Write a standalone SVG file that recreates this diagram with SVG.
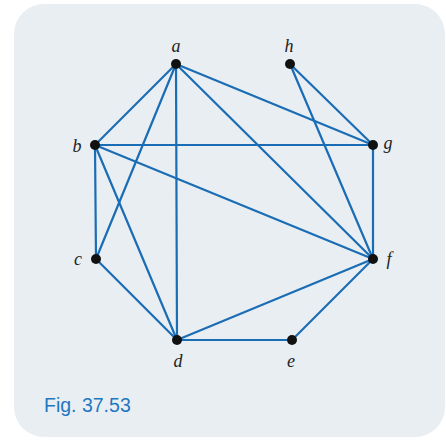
<svg xmlns="http://www.w3.org/2000/svg" width="446" height="441" viewBox="0 0 446 441">
<style>
.e{stroke:#1a6db5;stroke-width:2.2;fill:none;stroke-linecap:round}
.n{fill:#111}
.l{font-family:"Liberation Serif",serif;font-style:italic;font-size:18px;fill:#222;text-anchor:middle}
.cap{font-family:"Liberation Sans",Arial,sans-serif;font-size:19.5px;fill:#1f77c0}
</style>
<rect x="0" y="0" width="446" height="441" fill="#ffffff"/>
<rect x="14" y="4" width="431" height="433" rx="30" ry="30" fill="#e9eef2"/>
<g id="connectors">
<line class="e" x1="176" y1="64" x2="95" y2="145"/>
<line class="e" x1="176" y1="64" x2="96" y2="259"/>
<line class="e" x1="176" y1="64" x2="177" y2="340"/>
<line class="e" x1="176" y1="64" x2="373" y2="259"/>
<line class="e" x1="176" y1="64" x2="373" y2="145"/>
<line class="e" x1="290" y1="64" x2="373" y2="145"/>
<line class="e" x1="290" y1="64" x2="373" y2="259"/>
<line class="e" x1="95" y1="145" x2="373" y2="145"/>
<line class="e" x1="95" y1="145" x2="96" y2="259"/>
<line class="e" x1="95" y1="145" x2="177" y2="340"/>
<line class="e" x1="95" y1="145" x2="373" y2="259"/>
<line class="e" x1="96" y1="259" x2="177" y2="340"/>
<line class="e" x1="177" y1="340" x2="373" y2="259"/>
<line class="e" x1="177" y1="340" x2="292" y2="340"/>
<line class="e" x1="292" y1="340" x2="373" y2="259"/>
<line class="e" x1="373" y1="145" x2="373" y2="259"/>
</g>
<g id="a"><circle class="n" cx="176" cy="64" r="5"/><text class="l" x="176" y="52">a</text></g>
<g id="h"><circle class="n" cx="290" cy="64" r="5"/><text class="l" x="289" y="52">h</text></g>
<g id="b"><circle class="n" cx="95" cy="145" r="5"/><text class="l" x="77" y="152">b</text></g>
<g id="g"><circle class="n" cx="373" cy="145" r="5"/><text class="l" x="388" y="149">g</text></g>
<g id="c"><circle class="n" cx="96" cy="259" r="5"/><text class="l" x="78" y="265">c</text></g>
<g id="f"><circle class="n" cx="373" cy="259" r="5"/><text class="l" x="389" y="265">f</text></g>
<g id="d"><circle class="n" cx="177" cy="340" r="5"/><text class="l" x="178" y="367">d</text></g>
<g id="e"><circle class="n" cx="292" cy="340" r="5"/><text class="l" x="291" y="367">e</text></g>
<text class="cap" x="44" y="412">Fig. 37.53</text>
</svg>
